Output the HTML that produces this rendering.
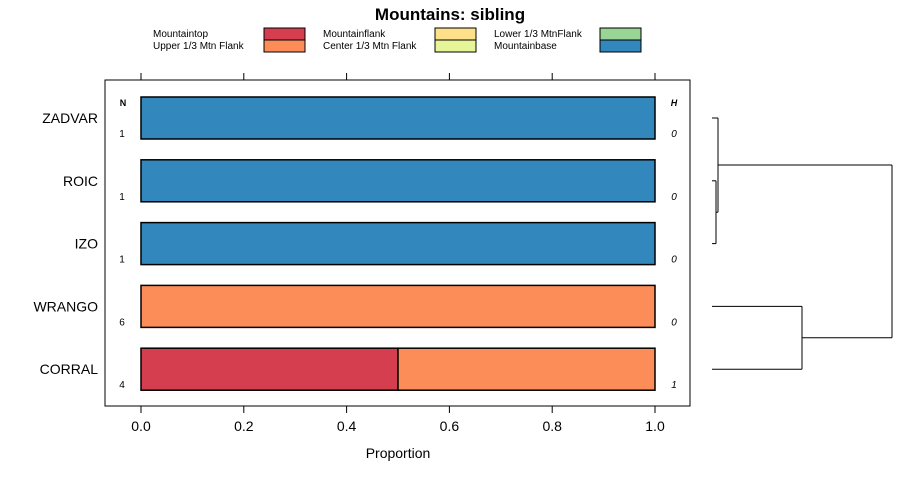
<!DOCTYPE html>
<html><head><meta charset="utf-8"><style>
body{margin:0;background:#fff;}
svg{font-family:"Liberation Sans",sans-serif;}
</style></head><body>
<svg width="900" height="480">
<g id="root"></g>
</svg>
<script>
const categories=["ZADVAR","ROIC","IZO","WRANGO","CORRAL"];
const nValues=[1,1,1,6,4];
const hValues=[0,0,0,0,1];
const seriesNames=["Mountaintop","Upper 1/3 Mtn Flank","Mountainflank","Center 1/3 Mtn Flank","Lower 1/3 MtnFlank","Mountainbase"];
const seriesColors=["#d53e4f","#fc8d59","#fee08b","#e6f598","#99d594","#3288bd"];
const mountaintop=[0,0,0,0,0.5];
const upperFlank=[0,0,0,1,0.5];
const mountainflank=[0,0,0,0,0];
const centerFlank=[0,0,0,0,0];
const lowerFlank=[0,0,0,0,0];
const mountainbase=[1,1,1,0,0];
const ticks=[0,0.2,0.4,0.6,0.8,1.0];
const tickLabels=["0.0","0.2","0.4","0.6","0.8","1.0"];
const series=[mountaintop,upperFlank,mountainflank,centerFlank,lowerFlank,mountainbase];
const NS="http://www.w3.org/2000/svg";
const root=document.getElementById('root');
function el(t,a,txt){const e=document.createElementNS(NS,t);for(const k in a)e.setAttribute(k,a[k]);if(txt!==undefined)e.textContent=txt;root.appendChild(e);return e;}
const xs=v=>141+v*514;
const yc=i=>118+i*62.8;
const bh=42;
let e;
e=el('text',{x:450,y:20,'text-anchor':'middle','font-size':17,'font-weight':'bold'},'Mountains: sibling');

// legend
const legX=[153,323,494],legBox=[264,435,600];
seriesNames.forEach((n,k)=>{const c=Math.floor(k/2),r=k%2;const y=28+r*12;
 e=el('text',{x:legX[c],y:y+9,'font-size':10},n);
 
 e=el('rect',{x:legBox[c],y:y,width:41,height:12,fill:seriesColors[k],stroke:'#000','stroke-width':1});
 
});
e=el('rect',{x:105,y:80,width:585,height:326,fill:'none',stroke:'#000','stroke-width':1});

ticks.forEach((t,i)=>{
 e=el('line',{x1:xs(t),x2:xs(t),y1:80,y2:73,stroke:'#000'});
 e=el('line',{x1:xs(t),x2:xs(t),y1:406,y2:413,stroke:'#000'});
 e=el('text',{x:xs(t),y:431,'text-anchor':'middle','font-size':14},tickLabels[i]);
});
e=el('text',{x:398,y:458,'text-anchor':'middle','font-size':14},'Proportion');
e=el('text',{x:123,y:106,'text-anchor':'middle','font-size':9,'font-weight':'bold'},'N');
e=el('text',{x:674,y:106,'text-anchor':'middle','font-size':9,'font-weight':'bold','font-style':'italic'},'H');
categories.forEach((c,i)=>{
 const y=yc(i);
 e=el('text',{x:98,y:y+5,'text-anchor':'end','font-size':14},c);
 e=el('text',{x:122,y:y+19,'text-anchor':'middle','font-size':10},nValues[i]);
 e=el('text',{x:674,y:y+19,'text-anchor':'middle','font-size':10,'font-style':'italic'},hValues[i]);
 let acc=0;
 series.forEach((s,k)=>{const v=s[i];if(v>0){
  e=el('rect',{x:xs(acc),y:y-bh/2,width:xs(acc+v)-xs(acc),height:bh,fill:seriesColors[k],stroke:'#000','stroke-width':1.5});
  
  acc+=v;}});
});
// dendrogram
const dend=[[712,yc(1),716,yc(1)],[712,yc(2),716,yc(2)],[716,yc(1),716,yc(2)],
[712,yc(0),718,yc(0)],[716,(yc(1)+yc(2))/2,718,(yc(1)+yc(2))/2],[718,yc(0),718,(yc(1)+yc(2))/2],
[712,yc(3),802,yc(3)],[712,yc(4),802,yc(4)],[802,yc(3),802,yc(4)],
[718,165,892,165],[802,(yc(3)+yc(4))/2,892,(yc(3)+yc(4))/2],[892,165,892,(yc(3)+yc(4))/2]];
dend.forEach(d=>{e=el('line',{x1:d[0],y1:d[1],x2:d[2],y2:d[3],stroke:'#000','stroke-width':1});
 });
</script>
</body></html>
